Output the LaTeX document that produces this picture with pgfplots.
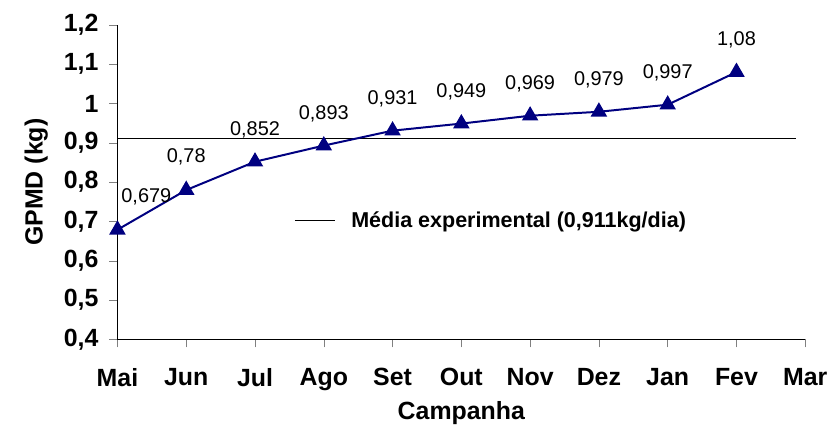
\documentclass[border=0pt]{standalone}
\usepackage{pgfplots}
\pgfplotsset{compat=1.18}
\usepackage{fontspec}
\setmainfont{Liberation Sans}
\definecolor{navy}{RGB}{0,0,128}
\begin{document}
\begin{tikzpicture}
\begin{axis}[
  scale only axis, width=345.5pt, height=158pt,
  xmin=0, xmax=10, ymin=0.4, ymax=1.2,
  axis lines*=left, axis line style={-, thin},
  tick align=outside, major tick length=4pt,
  xtick={0,...,10},
  xticklabels={Mai,Jun,Jul,Ago,Set,Out,Nov,Dez,Jan,Fev,Mar},
  ytick={0.4,0.5,...,1.2},
  yticklabel style={xshift=-2pt, /pgf/number format/.cd, use comma, fixed, precision=1},
  /pgf/number format/assume math mode=true,
  ticklabel style={font=\fontsize{12.5}{14}\selectfont\bfseries},
  xticklabel style={yshift=-7pt},
  xlabel={Campanha}, ylabel={GPMD (kg)},
  label style={font=\fontsize{12.5}{14}\selectfont\bfseries},
  xlabel style={at={(axis description cs:0.5,-0.235)}, anchor=center},
  ylabel style={at={(axis description cs:-0.118,0.5)}, anchor=center},
  legend style={at={(rel axis cs:0.248,0.377)}, anchor=west, draw=none, fill=none,
    font=\fontsize{10.8}{12}\selectfont\bfseries,
    /tikz/every odd column/.append style={column sep=6pt}},
  legend image code/.code={\draw[black, line width=0.6pt] (0pt,0pt) -- (20pt,0pt);},
  legend cell align=left,
]
\addplot[black, line width=0.6pt] coordinates {(0,0.911) (9.87,0.911)};
\addlegendentry{Média experimental (0,911kg/dia)}
\addplot[navy, line width=1pt, mark=triangle*, mark size=3.8pt, mark options={fill=navy}]
  coordinates {(0,0.679) (1,0.78) (2,0.852) (3,0.893) (4,0.931) (5,0.949)
               (6,0.969) (7,0.979) (8,0.997) (9,1.08)};
\pgfplotsset{every node/.style={font=\fontsize{7.5}{9}\selectfont}}
\node[anchor=south] at (axis cs:0.42,0.725) {0,679};
\node[anchor=south] at (axis cs:1,0.825) {0,78};
\node[anchor=south] at (axis cs:2,0.895) {0,852};
\node[anchor=south] at (axis cs:3,0.936) {0,893};
\node[anchor=south] at (axis cs:4,0.974) {0,931};
\node[anchor=south] at (axis cs:5,0.992) {0,949};
\node[anchor=south] at (axis cs:6,1.012) {0,969};
\node[anchor=south] at (axis cs:7,1.022) {0,979};
\node[anchor=south] at (axis cs:8,1.040) {0,997};
\node[anchor=south] at (axis cs:9,1.123) {1,08};
\coordinate (o) at (rel axis cs:0,0);
\end{axis}
\path ([shift={(-59pt,-52.5pt)}]o) rectangle ([shift={(358pt,170.5pt)}]o);
\end{tikzpicture}
\end{document}
